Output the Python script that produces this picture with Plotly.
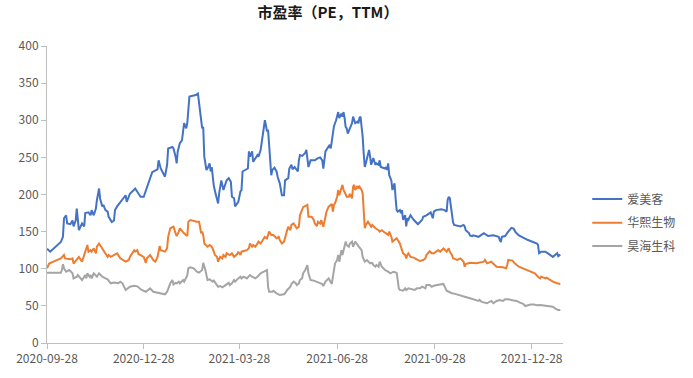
import plotly.graph_objects as go
import pandas as pd

START = "2020-09-28"
END = "2022-01-26 12:00"
tick_dates = ["2020-09-28", "2020-12-28", "2021-03-28", "2021-06-28", "2021-09-28", "2021-12-28"]
series_names = ["爱美客", "华熙生物", "昊海生科"]
colors = ["#4472C4", "#ED7D31", "#A5A5A5"]

# days since 2020-09-28
aimeike_days = [0, 3, 13, 15, 16, 18, 19, 22, 24, 25, 27, 28, 30, 33, 35, 36, 39, 41, 42, 44, 46, 47, 49, 50, 52, 53, 55, 57, 58, 61, 63, 64, 66, 69, 74, 75, 77, 78, 83, 88, 91, 94, 96, 99, 104, 105, 107, 111, 113, 114, 118, 119, 121, 122, 123, 125, 127, 129, 131, 132, 134, 140, 142, 144, 145, 146, 147, 148, 150, 151, 153, 154, 155, 156, 157, 159, 161, 162, 164, 166, 169, 171, 173, 174, 176, 177, 180, 182, 183, 184, 188, 189, 190, 191, 193, 194, 198, 199, 201, 202, 204, 205, 206, 207, 208, 209, 211, 212, 214, 216, 217, 219, 220, 221, 223, 224, 227, 228, 230, 231, 233, 236, 237, 238, 240, 243, 244, 246, 248, 252, 255, 257, 259, 260, 262, 265, 266, 267, 269, 270, 272, 273, 274, 275, 277, 278, 279, 280, 281, 282, 283, 285, 287, 288, 290, 292, 293, 294, 295, 296, 297, 298, 299, 300, 302, 303, 304, 305, 307, 308, 309, 310, 312, 313, 314, 318, 319, 320, 321, 322, 324, 325, 326, 327, 328, 329, 330, 332, 333, 334, 335, 337, 338, 339, 340, 342, 345, 348, 349, 353, 354, 357, 360, 361, 363, 364, 366, 371, 374, 376, 377, 378, 379, 380, 381, 382, 383, 386, 389, 392, 393, 394, 397, 398, 400, 401, 406, 411, 415, 420, 425, 426, 427, 428, 431, 434, 436, 437, 439, 440, 441, 444, 446, 448, 452, 457, 461, 462, 463, 465, 469, 472, 475, 476, 480, 481, 483]
aimeike_pe = [127, 123, 136, 143, 168, 172, 161, 160, 165, 157, 165, 181, 152, 161, 157, 175, 176, 172, 179, 172, 181, 193, 208, 194, 184, 186, 179, 177, 170, 163, 165, 179, 184, 190, 199, 190, 197, 201, 208, 197, 197, 210, 219, 230, 234, 246, 235, 224, 240, 262, 264, 262, 251, 242, 258, 269, 273, 296, 289, 296, 332, 334, 336, 309, 300, 289, 291, 251, 233, 235, 242, 231, 237, 219, 211, 199, 188, 202, 219, 206, 219, 222, 217, 197, 195, 184, 190, 204, 206, 231, 235, 235, 258, 251, 258, 244, 253, 251, 260, 271, 287, 300, 293, 285, 287, 264, 226, 233, 236, 231, 224, 215, 204, 199, 199, 219, 222, 235, 240, 234, 237, 231, 246, 253, 252, 256, 260, 237, 246, 246, 249, 250, 246, 235, 258, 264, 267, 262, 287, 292, 300, 305, 311, 303, 309, 305, 311, 303, 291, 289, 282, 289, 296, 305, 296, 298, 296, 303, 305, 291, 278, 255, 237, 242, 253, 260, 251, 240, 249, 244, 240, 242, 240, 246, 237, 235, 237, 233, 242, 226, 219, 206, 211, 215, 195, 179, 177, 179, 175, 179, 166, 172, 157, 168, 166, 172, 166, 162, 160, 166, 170, 172, 176, 176, 168, 177, 179, 180, 179, 177, 193, 197, 195, 184, 168, 163, 159, 158, 157, 159, 157, 152, 148, 145, 144, 145, 143, 148, 144, 145, 143, 139, 136, 143, 144, 150, 154, 155, 154, 152, 149, 145, 143, 142, 139, 136, 134, 132, 121, 123, 123, 120, 117, 116, 121, 117, 119]

huaxi_days = [0, 2, 6, 13, 16, 17, 22, 24, 25, 28, 30, 33, 35, 36, 38, 39, 41, 42, 44, 46, 47, 49, 52, 55, 57, 58, 60, 66, 69, 74, 77, 78, 82, 83, 85, 86, 91, 93, 94, 97, 100, 102, 104, 105, 106, 107, 110, 111, 113, 114, 116, 118, 119, 121, 122, 124, 125, 129, 132, 133, 135, 141, 143, 144, 145, 146, 147, 148, 151, 153, 155, 157, 158, 160, 161, 163, 165, 166, 168, 169, 172, 174, 176, 179, 180, 182, 183, 188, 190, 191, 193, 194, 196, 198, 199, 201, 204, 205, 207, 209, 211, 213, 216, 218, 219, 221, 223, 224, 226, 227, 229, 230, 232, 235, 237, 238, 240, 241, 245, 246, 249, 251, 252, 254, 255, 257, 258, 260, 262, 263, 265, 268, 269, 270, 271, 273, 274, 275, 276, 278, 279, 282, 284, 285, 287, 288, 289, 290, 292, 293, 294, 296, 297, 298, 299, 300, 302, 305, 306, 309, 312, 313, 315, 318, 321, 322, 324, 325, 328, 329, 332, 333, 334, 335, 337, 338, 339, 340, 342, 345, 348, 351, 354, 356, 357, 359, 360, 362, 364, 368, 370, 373, 375, 376, 378, 379, 381, 382, 386, 389, 392, 393, 394, 398, 404, 411, 412, 414, 418, 422, 423, 429, 432, 433, 434, 438, 440, 444, 450, 456, 459, 462, 464, 465, 469, 470, 473, 476, 480, 483]
huaxi_pe = [100.6, 107, 109.6, 114, 118.5, 114, 112.7, 114, 107, 111.8, 116, 109.5, 118.5, 123, 132, 123, 125, 123, 127.5, 120.8, 129.7, 134, 127.5, 120.8, 116, 118.5, 116, 120.8, 114, 109.5, 111.8, 116, 125, 123, 125, 119.9, 116, 108, 114, 118.5, 111.8, 109.5, 116, 123, 130.6, 125, 123, 123, 127.5, 143, 154.5, 156.6, 156.6, 147.7, 144, 150, 154.5, 147.7, 144, 163.4, 165.6, 163.4, 163.4, 156.6, 147.7, 150, 145.5, 134, 129.7, 132, 129.7, 123, 118.5, 116, 109.5, 116, 114, 118.5, 116, 120.8, 118.5, 120.8, 116, 119.7, 123, 118.5, 123, 125, 127.5, 134, 129.7, 132, 129.7, 134, 136.5, 134, 141, 143, 141, 150, 145.5, 145.5, 141, 143, 138.7, 134, 136.5, 143, 152, 156.6, 152, 159, 161, 154.5, 156.6, 172, 179, 183, 186, 170, 170, 165.6, 161, 157.6, 163.4, 161, 165.6, 156.6, 170, 177, 183.6, 187.2, 177, 186, 188, 197, 206, 199, 203.8, 213, 206, 197, 197, 200.7, 194.9, 210.5, 213, 206, 211.4, 208.3, 210.5, 206, 201.6, 174.7, 154.5, 159, 163.4, 156.6, 159, 154.5, 152, 150, 152, 148.6, 145.5, 150, 143, 136.5, 139.6, 141, 134, 129.7, 127.5, 120.8, 118.5, 114, 118.5, 120.8, 116, 115, 112.7, 110.4, 111.8, 114, 118.5, 123, 123.5, 120.8, 120.8, 125, 123, 127.5, 125, 123, 127.5, 123, 118.5, 114, 111.8, 114, 109.5, 102.8, 106.4, 108, 107.3, 109.5, 111.8, 107.3, 109.5, 105, 102.8, 102, 100.6, 105, 111.8, 111, 107.3, 102.8, 99.2, 96, 93.9, 89.3, 87.1, 89.3, 87, 88, 84.8, 82.6, 80.4, 79.5]

haohai_days = [0, 6, 10, 13, 14, 15, 16, 18, 21, 24, 25, 28, 29, 33, 36, 37, 38, 40, 41, 42, 44, 47, 49, 52, 55, 57, 60, 63, 67, 69, 71, 74, 78, 82, 85, 89, 93, 96, 97, 100, 105, 108, 111, 113, 114, 116, 118, 119, 121, 122, 124, 125, 128, 129, 132, 133, 135, 138, 141, 143, 146, 147, 149, 150, 151, 153, 156, 157, 160, 161, 163, 165, 168, 171, 172, 174, 176, 177, 180, 182, 183, 185, 188, 191, 193, 196, 198, 201, 204, 207, 208, 209, 212, 213, 216, 219, 223, 224, 226, 229, 230, 232, 234, 235, 237, 238, 240, 241, 243, 244, 245, 246, 248, 251, 254, 257, 259, 260, 262, 265, 266, 268, 269, 270, 271, 273, 274, 275, 276, 277, 278, 280, 281, 282, 284, 285, 287, 288, 290, 293, 295, 296, 297, 299, 301, 304, 306, 307, 309, 310, 312, 313, 315, 318, 321, 323, 326, 329, 330, 331, 332, 335, 337, 338, 340, 343, 346, 348, 351, 353, 356, 357, 360, 362, 364, 367, 370, 373, 375, 376, 378, 381, 384, 387, 390, 393, 398, 401, 404, 406, 407, 409, 414, 418, 420, 423, 426, 429, 431, 434, 439, 442, 445, 448, 450, 455, 458, 461, 464, 467, 470, 473, 476, 478, 481, 483]
haohai_pe = [94.7, 94.7, 93.9, 94.7, 98.3, 106, 100.6, 96, 98.3, 93.9, 87, 89.3, 91.6, 84.8, 91.6, 87, 93.9, 89.3, 91.6, 87, 93.9, 89.3, 93.9, 89.3, 87, 85.7, 80.4, 81.3, 80.4, 82.6, 80.4, 71.4, 75.8, 77.2, 76.3, 71.4, 69, 72.3, 73.6, 69, 67.8, 66.9, 65.6, 69, 73.6, 80.4, 84.8, 79, 81, 80.4, 82.6, 80.4, 84.8, 82.6, 91, 100.6, 101.9, 100.6, 96, 94.7, 98.3, 108, 98.3, 89.3, 84.8, 85.7, 82.6, 84, 78, 75.8, 76.8, 75, 78, 81, 78, 80.4, 84.8, 82.6, 87, 89.3, 87, 89.3, 87, 91.6, 89.3, 87, 89.3, 93.9, 96, 98.3, 75.8, 69, 69, 70.4, 66.9, 64.6, 65.6, 67, 71.4, 75.8, 79.5, 82.6, 80.4, 78, 80.4, 84.8, 87, 93.9, 98.3, 102.8, 105, 93.9, 84.8, 84, 82.6, 80.4, 79.5, 76.8, 82.6, 87, 84.8, 79.5, 89.3, 100.6, 107, 111.8, 118.5, 109.5, 120.8, 125, 118.5, 129.7, 136.5, 132, 129.7, 134, 136.5, 129.7, 136.5, 130.6, 127.5, 125, 116, 109.5, 111.8, 107.3, 108, 105, 102.8, 105, 102.8, 109.5, 102.8, 98.3, 96, 93.9, 96, 94.7, 84.8, 73.6, 71.4, 70.4, 73.6, 71.4, 73.6, 72.3, 71.4, 73.6, 73.6, 75.8, 73.6, 78, 78, 75.8, 77.2, 78, 78.8, 79.5, 73.6, 70.4, 69, 67, 66.2, 64.6, 63.7, 62.4, 60.2, 58.8, 57.4, 56.6, 58, 55.3, 53.5, 56.6, 53.5, 56.6, 58, 56.6, 58.8, 58.8, 57.2, 56.6, 54.4, 52.7, 49.8, 51.8, 51.8, 50.8, 51.3, 50.8, 50.4, 49.8, 48.8, 46.6, 44.4, 44.4]


def to_dates(days):
    return pd.Timestamp(START) + pd.to_timedelta(days, unit="D")


all_days = [aimeike_days, huaxi_days, haohai_days]
all_pe = [aimeike_pe, huaxi_pe, haohai_pe]
legend_ids = ["legend", "legend2", "legend3"]

fig = go.Figure()
for name, days, pe, color, lg in zip(series_names, all_days, all_pe, colors, legend_ids):
    fig.add_trace(go.Scatter(
        x=to_dates(days), y=pe, mode="lines", name=name,
        line=dict(color=color, width=2), legend=lg,
    ))

FONT = "Noto Sans CJK SC"
axis_color = "#BFBFBF"
tick_font = dict(family=FONT, size=12, color="#595959")

legend_common = dict(x=1.047, xanchor="left", yanchor="middle",
                     font=dict(family=FONT, size=12, color="#595959"),
                     bgcolor="rgba(0,0,0,0)", itemwidth=30)

fig.update_layout(
    width=693, height=378, autosize=False,
    margin=dict(l=47, r=130, t=46, b=35),
    paper_bgcolor="white", plot_bgcolor="white",
    font=dict(family=FONT, size=12, color="#595959"),
    title=dict(text="<b>市盈率（PE，TTM）</b>", x=328 / 693, xanchor="center",
               y=1 - 13 / 378, yanchor="middle", yref="container",
               font=dict(family=FONT, size=15, color="#1a1a1a")),
    xaxis=dict(type="date", range=[START, END], tickvals=tick_dates,
               tickformat="%Y-%m-%d", ticks="outside", ticklen=5,
               tickcolor=axis_color, showline=True, linecolor=axis_color,
               linewidth=1, showgrid=False, zeroline=False, tickfont=tick_font),
    yaxis=dict(range=[0, 400], dtick=50, ticks="outside", ticklen=5,
               tickcolor=axis_color, showline=True, linecolor=axis_color,
               linewidth=1, showgrid=False, zeroline=False, tickfont=tick_font),
    legend=dict(y=0.485, **legend_common),
    legend2=dict(y=0.405, **legend_common),
    legend3=dict(y=0.327, **legend_common),
    showlegend=True,
)

fig.write_html("out.html", config={"displayModeBar": False},
               post_script="document.body.style.margin='0';document.body.style.overflow='hidden';")
